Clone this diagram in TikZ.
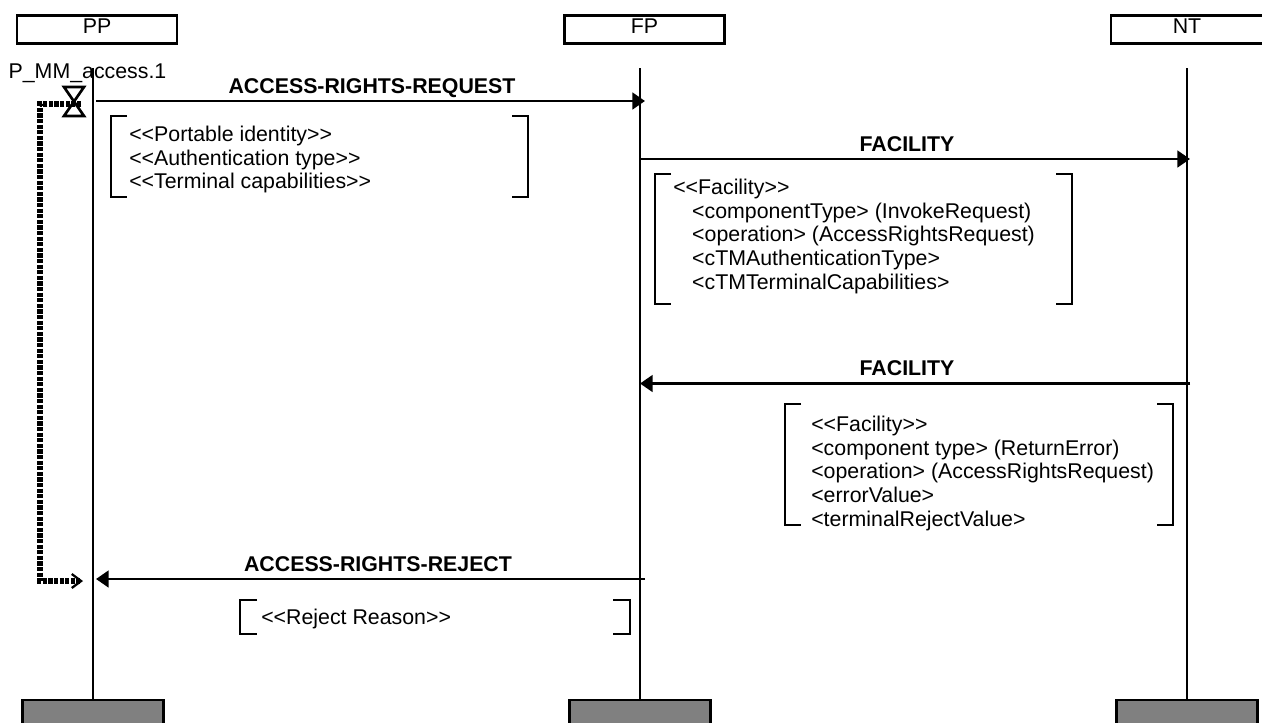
\documentclass[tikz,border=0pt]{standalone}
\usepackage{fontspec}
\setmainfont{Liberation Sans}
\usetikzlibrary{arrows.meta}

\begin{document}
\begin{tikzpicture}[x=0.75pt,y=-0.75pt,
    entity/.style={draw,line width=2.2pt,minimum height=21.5pt,inner sep=0pt,text depth=4.5pt,font=\fontsize{16}{17.7}\selectfont},
    stopbox/.style={draw,line width=2pt,fill=black!50,minimum width=105.5pt,minimum height=30pt,inner sep=0pt},
    lifeline/.style={line width=2.1pt},
    msg/.style={line width=2.1pt,-{Triangle[length=9.5pt,width=12.5pt]}},
    msglabel/.style={inner sep=0pt,font=\fontsize{16}{17.7}\selectfont\bfseries},
    params/.style={anchor=north west,inner sep=0pt,align=left,font=\fontsize{16}{17.7}\selectfont},
    brace/.style={line width=2.1pt},
    timer/.style={line width=4.4pt,dash pattern=on 3.2pt off 1pt}]
    \useasboundingbox (0,0) rectangle (1262,722);
    \fill[white] (0,0) rectangle (1262,722);

    \node[entity,minimum width=120pt] (pp) at (97,29.5) {PP};
    \node[entity,minimum width=120pt] (fp) at (644.5,29.5) {FP};
    \node[entity,minimum width=114pt] (nt) at (1187,29.5) {NT};

    \node[stopbox] (ppend) at (93,720) {};
    \node[stopbox] (fpend) at (640,720) {};
    \node[stopbox] (ntend) at (1187,720) {};

    \coordinate (pptop) at (93,68);
    \coordinate (fptop) at (640,68);
    \coordinate (nttop) at (1187,68);
    \draw[lifeline] (pptop) -- (ppend.north);
    \draw[lifeline] (fptop) -- (fpend.north);
    \draw[lifeline] (nttop) -- (ntend.north);

    \coordinate (req) at (96,101);
    \coordinate (reqend) at (645,101);
    \coordinate (fac) at (640,159);
    \coordinate (facend) at (1190,159);
    \coordinate (ret) at (1190,383.5);
    \coordinate (retend) at (640,383.5);
    \coordinate (rej) at (645,579);
    \coordinate (rejend) at (96,579);
    \draw[msg] (req) -- (reqend);
    \draw[msg] (fac) -- (facend);
    \draw[msg] (ret) -- (retend);
    \draw[msg] (rej) -- (rejend);

    \node[msglabel] (reqlabel) at (372,88.5) {ACCESS-RIGHTS-REQUEST};
    \node[msglabel] (faclabel) at (907,144) {FACILITY};
    \node[msglabel] (retlabel) at (907,368) {FACILITY};
    \node[msglabel] (rejlabel) at (378,564) {ACCESS-RIGHTS-REJECT};

    \node[inner sep=0pt,font=\fontsize{16}{17.7}\selectfont] (timerlabel) at (87.5,73) {P\_MM\_access.1};

    \draw[line width=2pt] (64,87) -- (84,87) -- (64,116) -- (84,116) -- cycle;
    \coordinate (tstart) at (81,104);
    \coordinate (tend) at (83,581);
    \draw[timer,-{Straight Barb[length=7pt,width=10.5pt,line width=1.7pt]}] (tstart) -- (40,104) -- (40,581) -- (tend);

    \draw[brace] (127,116) -- (111,116) -- (111,197) -- (127,197);
    \draw[brace] (512,116) -- (528,116) -- (528,197) -- (512,197);
    \draw[brace] (671,174) -- (655,174) -- (655,304) -- (671,304);
    \draw[brace] (1056,174) -- (1072,174) -- (1072,304) -- (1056,304);
    \draw[brace] (801,404) -- (785,404) -- (785,525) -- (801,525);
    \draw[brace] (1157,404) -- (1173,404) -- (1173,525) -- (1157,525);
    \draw[brace] (257,600) -- (240,600) -- (240,634) -- (257,634);
    \draw[brace] (613,600) -- (630,600) -- (630,634) -- (613,634);

    \node[params] (reqparams) at (129,126) {<{}<Portable identity>{}>\\<{}<Authentication type>{}>\\<{}<Terminal capabilities>{}>};
    \node[params] (facparams) at (673,179) {<{}<Facility>{}>\\
        \hspace*{14.2pt}<componentType> (InvokeRequest)\\
        \hspace*{14.2pt}<operation> (AccessRightsRequest)\\
        \hspace*{14.2pt}<cTMAuthenticationType>\\
        \hspace*{14.2pt}<cTMTerminalCapabilities>};
    \node[params] (retparams) at (811,416) {<{}<Facility>{}>\\<component type> (ReturnError)\\<operation> (AccessRightsRequest)\\<errorValue>\\<terminalRejectValue>};
    \node[params] (rejparams) at (261,609) {<{}<Reject Reason>{}>};
\end{tikzpicture}
\end{document}
